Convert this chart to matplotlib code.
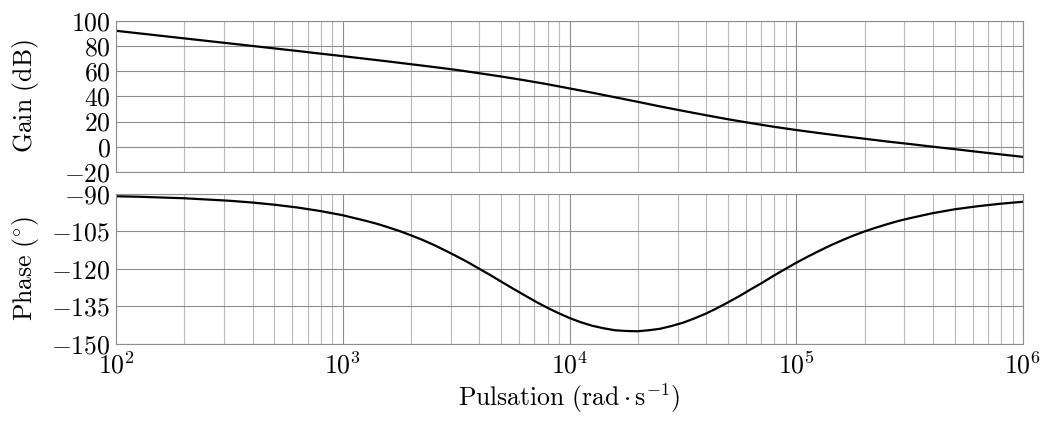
import numpy as np
import matplotlib
matplotlib.use("Agg")
import matplotlib.pyplot as plt
from matplotlib.ticker import LogLocator, FixedLocator, NullFormatter

plt.rcParams['font.family'] = 'serif'
plt.rcParams['font.serif'] = ['cmr10']
plt.rcParams['mathtext.fontset'] = 'cm'
plt.rcParams['axes.formatter.use_mathtext'] = True

# log10 of pulsation (rad/s) for the gain curve, every 0.1 decade
gain_log_w = [2.0, 2.1, 2.2, 2.3, 2.4, 2.5, 2.6, 2.7, 2.8, 2.9,
              3.0, 3.1, 3.2, 3.3, 3.4, 3.5, 3.6, 3.7, 3.8, 3.9,
              4.0, 4.1, 4.2, 4.3, 4.4, 4.5, 4.6, 4.7, 4.8, 4.9,
              5.0, 5.1, 5.2, 5.3, 5.4, 5.5, 5.6, 5.7, 5.8, 5.9, 6.0]

gain_db = [92.0, 90.0, 88.0, 86.0, 84.0, 82.0, 80.0, 78.0, 76.0, 73.9,
           71.9, 69.8, 67.7, 65.5, 63.3, 61.0, 58.4, 55.7, 52.8, 49.7,
           46.3, 42.9, 39.3, 35.7, 32.0, 28.5, 25.1, 21.8, 18.8, 15.9,
           13.3, 10.9, 8.6, 6.4, 4.2, 2.2, 0.1, -1.9, -4.0, -6.0, -8.0]

# log10 of pulsation for the phase curve (denser where it bends)
phase_log_w = [2.0, 2.1, 2.2, 2.3, 2.4, 2.5, 2.6, 2.7, 2.8, 2.9,
               3.0, 3.1, 3.15, 3.2, 3.25, 3.3, 3.35, 3.4, 3.45, 3.5, 3.55,
               3.6, 3.65, 3.7, 3.75, 3.8, 3.85, 3.9, 3.95,
               4.0, 4.05, 4.1, 4.15, 4.2, 4.25, 4.3, 4.35, 4.4, 4.45,
               4.5, 4.55, 4.6, 4.65, 4.7, 4.75, 4.8, 4.85, 4.9, 4.95,
               5.0, 5.05, 5.1, 5.15, 5.2, 5.25, 5.3, 5.35, 5.4, 5.45,
               5.5, 5.6, 5.7, 5.8, 5.9, 6.0]

phase_deg = [-90.9, -91.1, -91.4, -91.7, -92.2, -92.7, -93.4, -94.3, -95.4, -96.8,
             -98.5, -100.7, -101.9, -103.3, -104.8, -106.5, -108.3, -110.3, -112.5, -114.8, -117.2,
             -119.8, -122.4, -125.1, -127.8, -130.4, -133.0, -135.4, -137.6,
             -139.6, -141.3, -142.7, -143.7, -144.5, -144.8, -144.9, -144.5, -143.9, -142.8,
             -141.5, -139.8, -137.9, -135.7, -133.3, -130.8, -128.1, -125.5, -122.7, -120.1,
             -117.5, -115.1, -112.8, -110.6, -108.6, -106.7, -105.0, -103.5, -102.1, -100.8,
             -99.7, -97.7, -96.1, -94.9, -93.9, -93.1]

gain_ticks = [-20, 0, 20, 40, 60, 80, 100]
phase_ticks = [-150, -135, -120, -105, -90]
x_ticks = [1e2, 1e3, 1e4, 1e5, 1e6]

w_gain = [10 ** v for v in gain_log_w]
w_phase = [10 ** v for v in phase_log_w]

fig = plt.figure(figsize=(10.45, 4.21), dpi=100)
L, R = 116 / 1045, 1023 / 1045
ax1 = fig.add_axes([L, 1 - 172 / 421, R - L, (172 - 20.7) / 421])
ax2 = fig.add_axes([L, 1 - 344 / 421, R - L, (344 - 194) / 421])

major_c = '#8e8e8e'
minor_c = '#b8b8b8'
fs = 18.5

for ax in (ax1, ax2):
    ax.set_xscale('log')
    ax.set_xlim(1e2, 1e6)
    ax.xaxis.set_major_locator(FixedLocator(x_ticks))
    ax.xaxis.set_minor_locator(LogLocator(base=10, subs=np.arange(2, 10)))
    ax.xaxis.set_minor_formatter(NullFormatter())
    ax.grid(True, which='major', color=major_c, lw=0.8)
    ax.grid(True, which='minor', axis='x', color=minor_c, lw=0.8)
    ax.tick_params(which='both', length=0, labelsize=fs, pad=4)
    for s in ax.spines.values():
        s.set_color(major_c)
        s.set_linewidth(0.8)
    ax.set_axisbelow(True)

ax1.plot(w_gain, gain_db, color='black', lw=1.6)
ax1.set_ylim(-20, 100)
ax1.set_yticks(gain_ticks)
ax1.set_yticklabels([f'${v}$' for v in gain_ticks])
ax1.tick_params(axis='x', labelbottom=False)
ax1.set_ylabel(r'$\mathrm{Gain\ (dB)}$', fontsize=fs)
ax1.yaxis.set_label_coords(-0.083, 0.5)

ax2.plot(w_phase, phase_deg, color='black', lw=1.6)
ax2.set_ylim(-150, -90)
ax2.set_yticks(phase_ticks)
ax2.set_yticklabels([f'${v}$' for v in phase_ticks])
ax2.set_xticklabels([r'$10^{%d}$' % int(np.log10(v)) for v in x_ticks])
ax2.tick_params(axis='x', pad=6)
ax2.set_ylabel(r'$\mathrm{Phase}\ (^{\circ})$', fontsize=fs)
ax2.yaxis.set_label_coords(-0.083, 0.5)
ax2.set_xlabel(r'$\mathrm{Pulsation}\ (\mathrm{rad}\cdot\mathrm{s}^{-1})$', fontsize=fs, labelpad=2)

fig.savefig('out.png', dpi=100)
